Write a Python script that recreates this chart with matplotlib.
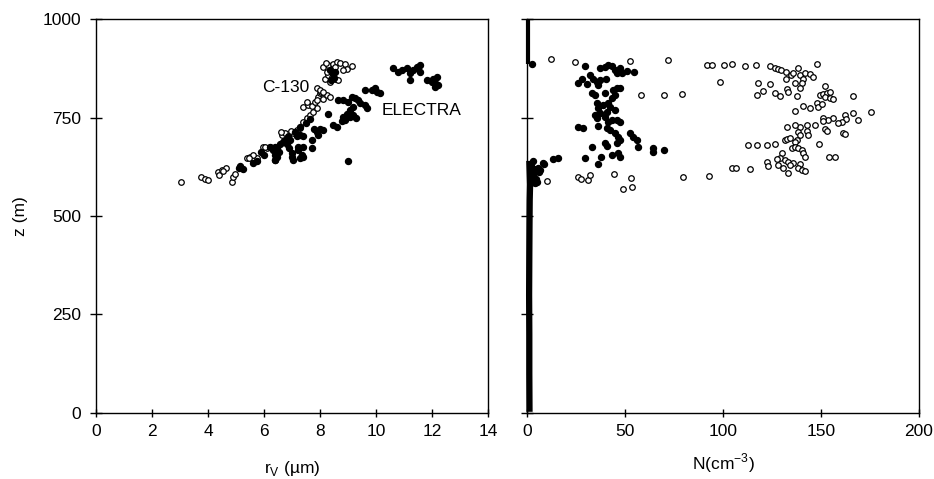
import matplotlib
matplotlib.use("Agg")
import matplotlib.pyplot as plt

plt.rcParams["font.family"] = ["Liberation Sans", "DejaVu Sans"]
plt.rcParams["font.size"] = 12.5

# left panel: mean volume radius vs height
c130_r = [3.05, 3.75, 3.9, 4.0, 4.35, 4.5, 4.65, 4.4, 4.55, 4.85, 4.9, 4.95,
          5.4, 5.5, 5.62, 5.74, 5.62, 5.45, 5.98, 6.1, 6.21, 6.33, 6.05,
          6.63, 6.75, 6.87, 7.05, 7.17, 7.29, 6.6, 6.95, 7.4, 7.52, 7.64, 7.76, 7.88,
          7.4, 7.58, 7.7, 7.82, 7.55, 7.94, 8.0, 8.12, 8.24, 8.36, 7.9, 8.05,
          7.88, 8.0, 8.12, 8.18, 8.3, 8.42, 8.54, 8.65, 8.36, 8.25,
          8.12, 8.3, 8.48, 8.6, 8.71, 8.89, 8.95, 9.13, 8.83, 8.55, 8.2]
c130_z = [587, 598, 593, 591, 612, 618, 621, 604, 615, 587, 600, 607,
          646, 650, 642, 646, 656, 648, 676, 672, 676, 670, 676,
          706, 710, 702, 710, 719, 723, 712, 716, 739, 748, 756, 765, 773,
          777, 782, 779, 790, 790, 803, 811, 798, 807, 803, 795, 815,
          824, 820, 816, 849, 858, 854, 849, 845, 841, 866,
          879, 883, 887, 891, 889, 887, 874, 880, 870, 878, 888]

electra_r = [5.1, 5.15, 5.25, 5.6, 5.75, 5.9, 6.0,
             6.33, 6.4, 6.45, 6.4, 6.39, 6.45, 6.52, 6.2, 6.39, 6.57, 6.69,
             6.7, 6.81, 6.93, 7.17, 7.23, 7.0, 6.9, 6.99, 7.05, 7.4, 7.27, 7.35,
             7.2, 7.4, 7.7, 7.7, 7.4, 7.27, 8.0, 7.88, 8.12, 7.94, 7.8,
             8.6, 8.45, 8.77, 8.89, 8.3,
             9.13, 9.25, 9.37, 9.42, 9.18, 9.07, 8.95, 9.0, 8.83, 8.65, 8.83, 9.07, 9.3, 9.18,
             9.61, 9.67, 9.61, 9.85, 9.96, 10.02, 10.14,
             10.62, 10.8, 10.92, 11.1, 11.21, 11.21, 11.33, 11.45, 11.5, 11.57, 11.57,
             11.81, 11.99, 12.05, 12.11, 12.17, 12.23, 12.11,
             9.0, 8.35, 8.45, 8.5, 8.55, 8.4, 6.85, 7.1, 7.3, 7.5, 7.65]
electra_z = [623, 628, 620, 635, 640, 662, 655,
             667, 655, 672, 643, 642, 651, 663, 676, 676, 684, 689,
             690, 684, 693, 702, 676, 660, 672, 651, 643, 651, 647, 655,
             668, 676, 672, 693, 702, 706, 722, 714, 718, 706, 722,
             727, 731, 740, 744, 760,
             803, 799, 795, 786, 777, 769, 760, 790, 795, 795, 752, 752, 748, 756,
             782, 773, 820, 820, 824, 816, 812,
             875, 866, 870, 875, 862, 845, 870, 879, 875, 883, 866,
             845, 841, 849, 837, 854, 832, 828,
             640, 870, 860, 850, 865, 845, 700, 712, 725, 735, 745]

# right panel: droplet concentration vs height
open_n = [12.1, 24.5, 52.6, 71.8, 58.2, 70, 79.3,
          10.4, 26, 27.5, 31, 32, 44.2, 53, 48.8, 53.4, 79.6, 92.9,
          104.8, 106.8, 113.7, 112.9, 117.2, 122.3, 126.5,
          91.7, 94.2, 100.5, 104.8, 111.1, 117, 123.8, 126.4, 128.1, 129.8, 132.3, 134.9,
          138.3, 135.7, 139.1, 141.7, 144.2, 145.9, 140.8, 147.9,
          98.5, 118, 124, 132.1, 136.7, 140.1, 139.3, 132.5, 133.3, 120.2, 117.2, 126.5,
          129.1, 137.6, 152,
          149.5, 151.2, 153, 154.7, 152, 154.7, 156.3, 166.5,
          147.8, 148.6, 150.4, 141, 144.4, 137, 166.5, 175.5,
          162.2, 163, 160.5, 169, 156.3, 153.7, 151.2, 151.2, 158.8,
          147, 142.7, 139.3, 136.7, 132.5, 138.4, 139.3, 142.7, 143.5, 152, 153, 161.4, 162.2,
          137.6, 136.7, 131.6, 132.5, 134.2,
          135, 136.7, 138.4, 140.1, 141, 141.8, 149, 154, 157,
          129.9, 129.1, 127.4, 131.6, 133.3, 135.9, 122.3, 123.1,
          128.2, 130.8, 134.2, 139.3, 138.4, 140.1, 141.8, 133.3]
open_z = [898, 891, 893, 895, 808, 806, 809,
          590, 598, 593, 592, 604, 607, 596, 569, 573, 598, 601,
          622, 623, 620, 681, 679, 681, 682,
          883, 883, 883, 886, 882, 883, 882, 875, 872, 871, 866, 858,
          875, 862, 858, 864, 860, 854, 849, 886,
          841, 838, 836, 847, 837, 837, 824, 822, 816, 817, 807, 811,
          805, 805, 830,
          807, 810, 811, 816, 801, 799, 797, 805,
          786, 777, 784, 779, 773, 767, 762, 765,
          756, 745, 739, 744, 748, 744, 748, 742, 737,
          731, 731, 727, 731, 725, 714, 706, 717, 706, 720, 717, 710, 708,
          693, 689, 693, 695, 697,
          672, 674, 672, 668, 659, 651, 683, 650, 651,
          659, 646, 644, 642, 638, 635, 638, 627,
          629, 623, 630, 632, 621, 617, 615, 608]

filled_n = [2.4, 29.6, 37.2, 39.8, 41.5, 43.2, 44.9, 45.8, 47.4, 48.3, 50.9, 54.6,
            27.9, 26.2, 30.5, 32.1, 33.8, 35.5, 36.4, 37.2, 40.3,
            33, 34.7, 39.8, 44.1, 45.8, 47.4,
            35.5, 36.4, 37.2, 38.9, 41.5, 43.2, 44.9,
            34.7, 35.5, 39.8, 40.6, 42.3, 44.9, 41.5, 43.2, 45.8, 47.4,
            26.2, 28.7, 36.4, 40.6, 42.3, 44.9, 46.6, 47.4, 45.8,
            52.6, 54.3, 56,
            33, 39.8, 40.6, 43.2, 46.6, 47.4, 38, 36.4, 29.6,
            56.8, 64.5, 64.5, 70,
            8.3, 6.6, 13.4, 16, 5.8, 8.7, 6.2,
            3, 4, 5, 2.5, 3.5, 2, 4.5, 3, 2.2, 3.8]
filled_z = [886, 882, 875, 879, 883, 881, 871, 864, 875, 862, 868, 865,
            847, 838, 836, 857, 849, 841, 832, 845, 847,
            811, 807, 813, 820, 824, 826,
            786, 773, 761, 782, 786, 799, 807,
            756, 748, 752, 765, 777, 769, 739, 744, 744, 739,
            727, 723, 728, 723, 718, 710, 701, 693, 685,
            710, 701, 693,
            676, 685, 678, 655, 659, 651, 651, 632, 646,
            674, 672, 663, 667,
            634, 617, 644, 647, 621, 632, 612,
            586, 583, 586, 600, 610, 625, 595, 640, 632, 620]

# dense low-concentration record below cloud and above it
surf_n = [1.3, 1.2, 1.2, 1.1, 1.2, 1.3, 1.4, 1.6, 1.2]
surf_z = [3, 100, 200, 300, 400, 480, 540, 580, 640]
top_n = [0.3, 0.3]
top_z = [886, 1000]

fig = plt.figure(figsize=(9.34, 4.79), dpi=100)
ax1 = fig.add_axes([0.1028, 0.1378, 0.4197, 0.8225])
ax2 = fig.add_axes([0.5642, 0.1378, 0.4197, 0.8225])

ax1.plot(c130_r, c130_z, "o", ms=4, mfc="white", mec="black", mew=0.9, ls="none")
ax1.plot(electra_r, electra_z, "o", ms=4.3, color="black", ls="none")
ax1.text(5.95, 827, "C-130", va="center", ha="left")
ax1.text(10.2, 769, "ELECTRA", va="center", ha="left")

ax2.plot(surf_n, surf_z, color="black", lw=4.5, solid_capstyle="butt", clip_on=False)
ax2.plot(top_n, top_z, color="black", lw=3, solid_capstyle="butt", clip_on=False)
ax2.plot(open_n, open_z, "o", ms=4, mfc="white", mec="black", mew=0.9, ls="none")
ax2.plot(filled_n, filled_z, "o", ms=4.3, color="black", ls="none")

ax1.set_xlim(0, 14)
ax1.set_xticks(range(0, 15, 2))
ax2.set_xlim(0, 200)
ax2.set_xticks([0, 50, 100, 150, 200])
for ax in (ax1, ax2):
    ax.set_ylim(0, 1000)
    ax.set_yticks([0, 250, 500, 750, 1000])
    ax.tick_params(axis="y", direction="inout", length=9, width=1, pad=6)
    ax.tick_params(axis="x", direction="inout", length=6, width=1, pad=5)
    for s in ax.spines.values():
        s.set_linewidth(1.0)
ax2.set_yticklabels([])

ax1.set_ylabel("z (m)", labelpad=11)
ax1.set_xlabel("r$_\\mathregular{V}$ (\u00b5m)", labelpad=14)
ax2.set_xlabel("N(cm$^\\mathregular{-3}$)", labelpad=9)

fig.savefig("out.png", dpi=100)
